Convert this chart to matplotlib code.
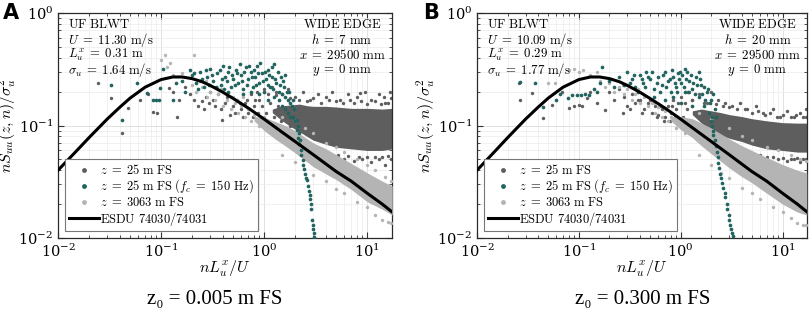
import numpy as np
import matplotlib
matplotlib.use('Agg')
import matplotlib.pyplot as plt
from matplotlib.lines import Line2D

plt.rcParams['mathtext.fontset'] = 'cm'
plt.rcParams['font.family'] = 'serif'

# ESDU 74030/74031 reference spectrum
esdu_x = [0.01, 0.015, 0.02, 0.03, 0.04, 0.05, 0.07, 0.1, 0.13, 0.16, 0.2, 0.25,
          0.3, 0.4, 0.5, 0.7, 1.0, 1.5, 2, 3, 5, 7, 10, 14, 17.5]
esdu_y = [0.040, 0.059, 0.078, 0.114, 0.146, 0.175, 0.219, 0.256, 0.270, 0.270, 0.261, 0.245,
          0.227, 0.197, 0.174, 0.143, 0.114, 0.087, 0.072, 0.055, 0.039, 0.032, 0.025, 0.020, 0.017]

# ---------------- panel A (z0 = 0.005 m FS) ----------------
a_dark_x = [0.0245, 0.033, 0.042, 0.048, 0.063, 0.075, 0.084, 0.091, 0.12, 0.131, 0.143, 0.15,
            0.17, 0.19, 0.21, 0.23, 0.25, 0.27, 0.3, 0.33, 0.36, 0.39, 0.42, 0.47, 0.5, 0.55,
            0.6, 0.65, 0.7, 0.75, 0.8, 0.85, 0.9, 1.0, 1.1, 1.2, 1.3, 1.5, 1.7, 2.0, 2.4, 2.8,
            3.3, 4.0, 4.6, 5.5, 6.5, 8.0, 8.5, 9.5, 11, 13, 14.4, 15, 16.5,
            1.5, 2.5, 3.5, 4.5, 6.0, 7.5, 9.0, 11, 13, 15, 17,
            0.32, 0.38, 0.44, 0.52, 0.58, 0.62, 0.68, 0.72, 0.78, 0.82, 0.88, 0.95, 1.05, 1.15,
            1.25, 1.35, 1.45, 1.6, 1.8, 2.2, 0.26, 0.29,
            1.3, 1.8, 2.2, 2.6, 3.0, 3.6, 4.3, 5.0, 5.8, 6.8, 7.5, 8.8, 10, 12, 13.5, 16, 17,
            2.0, 2.8, 3.2, 4.0, 5.2, 6.5, 8.3, 10, 12, 14, 16]
a_dark_y = [0.24, 0.175, 0.086, 0.143, 0.168, 0.19, 0.131, 0.129, 0.215, 0.2, 0.12, 0.17,
            0.22, 0.19, 0.17, 0.15, 0.165, 0.18, 0.2, 0.15, 0.19, 0.112, 0.16, 0.124, 0.15, 0.17,
            0.14, 0.16, 0.13, 0.19, 0.15, 0.2, 0.17, 0.21, 0.19, 0.22, 0.2, 0.19, 0.21, 0.18, 0.2, 0.17,
            0.19, 0.18, 0.2, 0.17, 0.19, 0.18, 0.195, 0.2, 0.17, 0.19, 0.18, 0.16, 0.2,
            0.075, 0.07, 0.058, 0.052, 0.05, 0.048, 0.05, 0.047, 0.05, 0.045, 0.05,
            0.17, 0.14, 0.18, 0.13, 0.16, 0.12, 0.17, 0.14, 0.12, 0.17, 0.13, 0.15, 0.13, 0.16,
            0.12, 0.15, 0.11, 0.13, 0.1, 0.11, 0.14, 0.16,
            0.185, 0.175, 0.17, 0.165, 0.175, 0.16, 0.17, 0.165, 0.16, 0.17, 0.16, 0.165, 0.155, 0.165, 0.155, 0.16, 0.175,
            0.075, 0.065, 0.062, 0.058, 0.055, 0.054, 0.053, 0.052, 0.053, 0.052, 0.054]
a_dark_band_x = [1.2, 1.5, 1.8, 2.2, 2.6, 3, 4, 5, 7, 10, 14, 17.5]
a_dark_lo = [0.13, 0.11, 0.098, 0.088, 0.08, 0.074, 0.068, 0.064, 0.062, 0.06, 0.06, 0.062]
a_dark_hi = [0.14, 0.15, 0.152, 0.155, 0.15, 0.148, 0.148, 0.146, 0.142, 0.142, 0.14, 0.142]

a_teal_x = [0.033, 0.042, 0.058, 0.073, 0.084, 0.09, 0.096, 0.098, 0.104, 0.131, 0.14, 0.16,
            0.17, 0.19, 0.2, 0.22, 0.24, 0.26, 0.28, 0.3, 0.32, 0.35, 0.38, 0.4, 0.42, 0.45,
            0.48, 0.5, 0.53, 0.56, 0.6, 0.63, 0.66, 0.7, 0.74, 0.78, 0.82, 0.86, 0.9, 0.95,
            1.0, 1.05, 1.1, 1.15, 1.2, 1.25, 1.3, 1.4, 1.45, 1.5, 1.55, 1.6, 1.7, 1.75, 1.8,
            1.85, 1.9, 1.95, 2.0,
            0.21, 0.23, 0.25, 0.27, 0.29, 0.31, 0.34, 0.37, 0.39, 0.41, 0.44, 0.46, 0.49, 0.52,
            0.55, 0.58, 0.61, 0.64, 0.68, 0.72, 0.76, 0.8, 0.84, 0.88, 0.92, 0.97, 1.02, 1.08,
            1.12, 1.18, 1.22, 1.28, 1.35, 1.38, 1.42, 1.48, 1.52, 1.58, 1.65, 1.72, 1.78, 1.88,
            1.92, 0.62, 0.9, 1.1, 0.75, 0.45, 1.6, 1.25,
            2.09, 2.12, 2.1, 2.17, 2.15, 2.24, 2.2, 2.3, 2.28, 2.39, 2.36, 2.45, 2.5, 2.56,
            2.61, 2.66, 2.7, 2.76, 2.8, 2.84, 2.88, 2.92, 2.95, 2.98, 3.02, 3.06]
a_teal_y = [0.23, 0.112, 0.24, 0.195, 0.168, 0.168, 0.168, 0.215, 0.32, 0.168, 0.24, 0.25,
            0.2, 0.31, 0.28, 0.24, 0.3, 0.22, 0.27, 0.32, 0.25, 0.29, 0.23, 0.34, 0.27, 0.3,
            0.22, 0.26, 0.31, 0.24, 0.28, 0.21, 0.33, 0.26, 0.3, 0.22, 0.27, 0.34, 0.24, 0.29,
            0.2, 0.26, 0.31, 0.22, 0.27, 0.18, 0.24, 0.2, 0.27, 0.15, 0.22, 0.18, 0.13, 0.2, 0.16,
            0.12, 0.17, 0.14, 0.11,
            0.29, 0.21, 0.26, 0.31, 0.23, 0.28, 0.22, 0.31, 0.26, 0.21, 0.25, 0.33, 0.28, 0.23,
            0.29, 0.35, 0.25, 0.3, 0.23, 0.34, 0.27, 0.31, 0.23, 0.29, 0.36, 0.25, 0.3, 0.23,
            0.28, 0.33, 0.21, 0.26, 0.3, 0.17, 0.23, 0.19, 0.25, 0.14, 0.2, 0.17, 0.12, 0.15,
            0.12, 0.19, 0.19, 0.17, 0.2, 0.2, 0.28, 0.35,
            0.112, 0.1, 0.092, 0.085, 0.078, 0.074, 0.068, 0.06, 0.055, 0.049, 0.045, 0.041, 0.037, 0.034,
            0.033, 0.029, 0.026, 0.024, 0.022, 0.02, 0.018, 0.0145, 0.013, 0.012, 0.011, 0.0102]

a_light_x = [0.1, 0.11, 0.115, 0.122, 0.13, 0.16, 0.21, 0.2, 0.22, 0.24, 0.25, 0.28, 0.3,
             0.33, 0.36, 0.4, 0.44, 0.48, 0.52, 0.56, 0.6, 0.65, 0.7, 0.75, 0.8, 0.9, 1.0,
             1.1, 1.2, 0.35, 0.45, 0.5, 0.27, 0.38, 0.55, 0.62,
             1.5, 2.0, 2.5, 3.0, 4.0, 5.0, 6.0, 8.0, 10, 12, 15, 17,
             1.5, 2.0, 3.0, 4.0, 5.0, 6.0, 8.0, 10, 12, 14, 16, 17]
a_light_y = [0.38, 0.42, 0.33, 0.36, 0.28, 0.29, 0.42, 0.23, 0.2, 0.25, 0.22, 0.18, 0.2,
             0.17, 0.19, 0.15, 0.17, 0.14, 0.16, 0.13, 0.15, 0.12, 0.14, 0.11, 0.125, 0.1, 0.12,
             0.09, 0.105, 0.22, 0.2, 0.18, 0.25, 0.21, 0.17, 0.18,
             0.12, 0.11, 0.095, 0.085, 0.07, 0.065, 0.058, 0.05, 0.045, 0.04, 0.035, 0.032,
             0.055, 0.047, 0.036, 0.032, 0.027, 0.025, 0.021, 0.019, 0.016, 0.0145, 0.014, 0.0135]
a_light_band_x = [0.8, 1.0, 1.3, 1.6, 2, 3, 4, 5, 7, 10, 14, 17.5]
a_light_lo = [0.11, 0.09, 0.075, 0.066, 0.057, 0.043, 0.037, 0.033, 0.027, 0.021, 0.018, 0.016]
a_light_hi = [0.12, 0.118, 0.108, 0.1, 0.09, 0.07, 0.062, 0.055, 0.046, 0.038, 0.032, 0.029]

# ---------------- panel B (z0 = 0.300 m FS) ----------------
b_dark_x = [0.026, 0.0264, 0.035, 0.044, 0.054, 0.068, 0.08, 0.09, 0.1, 0.107, 0.12, 0.13,
            0.15, 0.18, 0.2, 0.22, 0.25, 0.28, 0.3, 0.33, 0.36, 0.4, 0.44, 0.48, 0.52, 0.56,
            0.6, 0.65, 0.7, 0.75, 0.8, 0.85, 0.9, 1.0, 1.1, 1.2, 1.3, 1.5, 1.7, 2.0, 2.3, 2.7,
            3.2, 3.8, 4.5, 5.5, 6.5, 8.0, 9.5, 11, 13, 15, 17,
            2.0, 3.0, 4.0, 5.0, 7.0, 9.0, 11, 13, 15, 17,
            0.32, 0.38, 0.42, 0.5, 0.58, 0.62, 0.68, 0.72, 0.78, 0.82, 0.88, 0.95, 1.05, 1.15,
            1.25, 1.4, 1.6, 1.8, 2.2, 0.27,
            1.3, 1.8, 2.2, 2.6, 3.0, 3.6, 4.3, 5.0, 5.8, 6.8, 7.5, 8.8, 10, 12, 13.5, 16, 17,
            2.5, 3.5, 4.5, 6, 8, 10, 12, 14, 16]
b_dark_y = [0.24, 0.168, 0.195, 0.116, 0.152, 0.198, 0.143, 0.15, 0.152, 0.15, 0.175, 0.2,
            0.16, 0.137, 0.2, 0.17, 0.21, 0.18, 0.15, 0.19, 0.16, 0.17, 0.14, 0.16, 0.13, 0.15,
            0.125, 0.14, 0.12, 0.15, 0.13, 0.17, 0.14, 0.18, 0.16, 0.2, 0.17, 0.19, 0.16, 0.2, 0.17, 0.16,
            0.15, 0.16, 0.14, 0.15, 0.13, 0.14, 0.12, 0.135, 0.12, 0.13, 0.14,
            0.075, 0.065, 0.06, 0.055, 0.052, 0.05, 0.048, 0.05, 0.047, 0.05,
            0.14, 0.17, 0.13, 0.17, 0.12, 0.15, 0.11, 0.14, 0.11, 0.15, 0.12, 0.16, 0.12, 0.14,
            0.11, 0.13, 0.12, 0.1, 0.1, 0.13,
            0.17, 0.16, 0.155, 0.15, 0.145, 0.14, 0.14, 0.13, 0.135, 0.125, 0.13, 0.12, 0.125, 0.12, 0.125, 0.12, 0.12,
            0.07, 0.062, 0.058, 0.055, 0.052, 0.051, 0.05, 0.051, 0.05]
b_dark_band_x = [1.3, 1.6, 2, 2.5, 3, 4, 5, 7, 10, 14, 17.3]
b_dark_lo = [0.125, 0.105, 0.09, 0.082, 0.077, 0.072, 0.067, 0.062, 0.06, 0.058, 0.058]
b_dark_hi = [0.135, 0.14, 0.135, 0.13, 0.125, 0.12, 0.115, 0.11, 0.106, 0.105, 0.105]

b_teal_x = [0.0264, 0.037, 0.044, 0.06, 0.065, 0.078, 0.085, 0.095, 0.105, 0.115, 0.125, 0.14,
            0.15, 0.16, 0.17, 0.2, 0.22, 0.25, 0.28, 0.3, 0.33, 0.36, 0.4, 0.43, 0.46, 0.5,
            0.55, 0.6, 0.65, 0.7, 0.75, 0.8, 0.85, 0.9, 0.95, 0.98, 1.0, 1.1, 1.15, 1.2, 1.3,
            1.4, 1.5, 1.6, 1.7, 1.8, 1.9, 2.0, 2.05,
            0.32, 0.35, 0.38, 0.42, 0.45, 0.48, 0.52, 0.58, 0.62, 0.67, 0.72, 0.78, 0.82, 0.88,
            0.92, 0.97, 1.02, 1.07, 1.12, 1.18, 1.25, 1.32, 1.38, 1.45, 1.55, 1.62, 1.68, 1.75,
            1.85, 1.95, 2.1, 2.15, 2.2, 0.7, 1.0, 1.3, 0.55, 1.5, 1.1, 0.85,
            2.0, 2.05, 2.1, 2.08, 2.15, 2.2, 2.25, 2.3, 2.35, 2.4, 2.45, 2.5, 2.55, 2.62, 2.7,
            2.75, 2.82, 2.88, 2.95, 3.0, 3.05, 3.12, 3.18, 3.24]
b_teal_y = [0.244, 0.24, 0.146, 0.17, 0.19, 0.175, 0.185, 0.188, 0.186, 0.19, 0.185, 0.21,
            0.2, 0.24, 0.33, 0.25, 0.22, 0.27, 0.23, 0.3, 0.26, 0.22, 0.28, 0.24, 0.3, 0.26,
            0.21, 0.27, 0.23, 0.3, 0.25, 0.2, 0.27, 0.22, 0.29, 0.3, 0.24, 0.2, 0.3, 0.25, 0.21,
            0.27, 0.18, 0.23, 0.15, 0.2, 0.13, 0.17, 0.12,
            0.24, 0.28, 0.2, 0.26, 0.22, 0.27, 0.3, 0.24, 0.2, 0.28, 0.22, 0.26, 0.31, 0.24,
            0.2, 0.26, 0.28, 0.22, 0.26, 0.2, 0.28, 0.24, 0.19, 0.23, 0.26, 0.19, 0.22, 0.17,
            0.21, 0.16, 0.19, 0.14, 0.12, 0.17, 0.16, 0.15, 0.18, 0.3, 0.32, 0.18,
            0.11, 0.1, 0.09, 0.082, 0.074, 0.066, 0.058, 0.052, 0.046, 0.042, 0.037, 0.034, 0.031, 0.028, 0.025,
            0.023, 0.02, 0.018, 0.016, 0.0145, 0.013, 0.012, 0.011, 0.0105]

b_light_x = [0.05, 0.058, 0.08, 0.09, 0.1, 0.11, 0.13, 0.15, 0.16, 0.18, 0.2, 0.22, 0.25,
             0.28, 0.3, 0.33, 0.36, 0.4, 0.44, 0.48, 0.52, 0.56, 0.6, 0.65, 0.7, 0.75, 0.8,
             0.9, 1.0, 1.1, 1.2, 0.27, 0.38, 0.55,
             1.5, 2.0, 3.0, 4.0, 5.0, 7.0, 9.0, 12, 15, 17,
             1.5, 2.0, 2.5, 3.0, 4.0, 5.0, 6.0, 8.0, 10, 12, 14, 16, 17]
b_light_y = [0.24, 0.24, 0.31, 0.32, 0.3, 0.31, 0.28, 0.3, 0.25, 0.22, 0.24, 0.2, 0.22,
             0.19, 0.21, 0.17, 0.19, 0.16, 0.18, 0.15, 0.16, 0.13, 0.145, 0.12, 0.135, 0.11, 0.12,
             0.095, 0.11, 0.085, 0.1, 0.23, 0.21, 0.16,
             0.13, 0.115, 0.095, 0.08, 0.075, 0.065, 0.06, 0.055, 0.05, 0.048,
             0.055, 0.045, 0.038, 0.034, 0.028, 0.025, 0.022, 0.019, 0.017, 0.015, 0.0135, 0.013, 0.013]
b_light_band_x = [0.8, 1.0, 1.3, 1.6, 2, 3, 4, 5, 7, 10, 14, 17.3]
b_light_lo = [0.11, 0.092, 0.078, 0.066, 0.056, 0.042, 0.035, 0.031, 0.025, 0.02, 0.017, 0.016]
b_light_hi = [0.12, 0.12, 0.115, 0.105, 0.095, 0.076, 0.066, 0.06, 0.052, 0.045, 0.04, 0.038]

a_left = [r'$\mathrm{UF\ BLWT}$', r'$U\;=\;11.30\ \mathrm{m/s}$',
          r'$L_u^x\;=\;0.31\ \mathrm{m}$', r'$\sigma_u\;=\;1.64\ \mathrm{m/s}$']
a_right = [r'$\mathrm{WIDE\ EDGE}$', r'$h\;=\;7\ \mathrm{mm}$',
           r'$x\;=\;29500\ \mathrm{mm}$', r'$y\;=\;0\ \mathrm{mm}$']
b_left = [r'$\mathrm{UF\ BLWT}$', r'$U\;=\;10.09\ \mathrm{m/s}$',
          r'$L_u^x\;=\;0.29\ \mathrm{m}$', r'$\sigma_u\;=\;1.77\ \mathrm{m/s}$']
b_right = [r'$\mathrm{WIDE\ EDGE}$', r'$h\;=\;20\ \mathrm{mm}$',
           r'$x\;=\;29500\ \mathrm{mm}$', r'$y\;=\;0\ \mathrm{mm}$']

labels = [r'$z\;=\;25\ \mathrm{m\ FS}$',
          r'$z\;=\;25\ \mathrm{m\ FS}\ (f_c\;=\;150\ \mathrm{Hz})$',
          r'$z\;=\;3063\ \mathrm{m\ FS}$',
          r'$\mathrm{ESDU\ 74030/74031}$']

DARK = '#5e5e5e'
TEAL = '#22645f'
LIGHT = '#b4b4b4'


def draw_panel(ax, dark, teal, light, left_txt, right_txt):
    # dense cores first, then the individual points
    ax.fill_between(dark[2], dark[3], dark[4], color=DARK, lw=0, zorder=2)
    ax.scatter(dark[0], dark[1], s=6, color=DARK, lw=0, zorder=2)
    ax.fill_between(light[2], light[3], light[4], color=LIGHT, lw=0, zorder=3)
    ax.scatter(light[0], light[1], s=6, color=LIGHT, lw=0, zorder=3)
    ax.scatter(teal[0], teal[1], s=7, color=TEAL, lw=0, zorder=4)
    ax.plot(esdu_x, esdu_y, color='k', lw=2.2, zorder=5)

    ax.set_xscale('log')
    ax.set_yscale('log')
    ax.set_xlim(0.01, 17.4)
    ax.set_ylim(0.01, 1)
    ax.grid(True, which='major', color='#dcdcdc', lw=0.6)
    ax.grid(True, which='minor', color='#ececec', lw=0.5)
    ax.set_axisbelow(True)
    ax.tick_params(which='both', direction='in', top=True, right=True, labelsize=10.5,
                   color='#333333')
    ax.tick_params(which='major', length=4)
    ax.tick_params(which='minor', length=2.2)
    for s in ax.spines.values():
        s.set_color('#2a2a2a')
        s.set_linewidth(0.9)
    ax.set_xlabel(r'$nL_u^x/U$', fontsize=11.5)
    ax.xaxis.set_label_coords(0.5, -0.095)
    ax.set_ylabel(r'$nS_{uu}(z,n)/\sigma_u^2$', fontsize=11.5)
    ax.yaxis.set_label_coords(-0.12, 0.5)

    ys = [0.951, 0.882, 0.815, 0.748]
    for t, y in zip(left_txt, ys):
        ax.text(0.03, y, t, transform=ax.transAxes, fontsize=9.2, va='center', ha='left', zorder=6)
    for t, y in zip(right_txt, ys):
        ax.text(0.85, y, t, transform=ax.transAxes, fontsize=9.2, va='center', ha='center', zorder=6)

    handles = [Line2D([], [], ls='', marker='o', ms=3.5, mec='none', color=DARK),
               Line2D([], [], ls='', marker='o', ms=3.5, mec='none', color=TEAL),
               Line2D([], [], ls='', marker='o', ms=3.5, mec='none', color=LIGHT),
               Line2D([], [], color='k', lw=2.2)]
    leg = ax.legend(handles, labels, loc='lower left', bbox_to_anchor=(0.022, 0.03),
                    borderaxespad=0, fontsize=9.0, fancybox=False, framealpha=1,
                    edgecolor='#777777', handlelength=2.4, handletextpad=0.1,
                    labelspacing=0.05, borderpad=0.3)
    leg.get_frame().set_linewidth(0.8)
    leg.set_zorder(7)


fig = plt.figure(figsize=(8.09, 3.23), dpi=100)
ax_a = fig.add_axes([58 / 809, 85 / 323, 334 / 809, 225 / 323])
ax_b = fig.add_axes([477 / 809, 85 / 323, 330 / 809, 225 / 323])

draw_panel(ax_a, (a_dark_x, a_dark_y, a_dark_band_x, a_dark_lo, a_dark_hi),
           (a_teal_x, a_teal_y), (a_light_x, a_light_y, a_light_band_x, a_light_lo, a_light_hi),
           a_left, a_right)
draw_panel(ax_b, (b_dark_x, b_dark_y, b_dark_band_x, b_dark_lo, b_dark_hi),
           (b_teal_x, b_teal_y), (b_light_x, b_light_y, b_light_band_x, b_light_lo, b_light_hi),
           b_left, b_right)

fig.text(3 / 809, 1 - 13 / 323, 'A', fontsize=15, fontweight='bold', family='DejaVu Sans',
         va='center', ha='left')
fig.text(423 / 809, 1 - 13 / 323, 'B', fontsize=15, fontweight='bold', family='DejaVu Sans',
         va='center', ha='left')
fig.text(215 / 809, 1 - 299 / 323, 'z\u2080 = 0.005 m FS', fontsize=15,
         family=['Liberation Serif', 'DejaVu Serif'], ha='center', va='center')
fig.text(643 / 809, 1 - 299 / 323, 'z\u2080 = 0.300 m FS', fontsize=15,
         family=['Liberation Serif', 'DejaVu Serif'], ha='center', va='center')

fig.savefig('out.png', dpi=100)
